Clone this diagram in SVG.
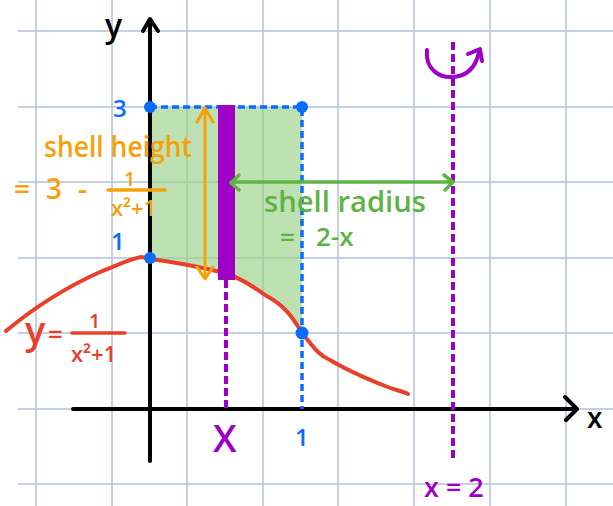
<svg xmlns="http://www.w3.org/2000/svg" width="613" height="506" viewBox="0 0 613 506">
<style>
.grid{stroke:#b3c2da;stroke-width:1.5;fill:none}
.hand{font-family:"Open Sans","Liberation Sans",sans-serif;font-weight:600}
.or{fill:#f7a10a}
.gr{fill:#5db444}
.rd{fill:#e8402a}
.pu{fill:#9e00c5}
.bl{fill:#0a6cff}
.ax{stroke:#000;stroke-width:4;fill:none;stroke-linecap:round;stroke-linejoin:round}
</style>
<rect width="613" height="506" fill="#fff"/>
<g id="grid" class="grid">
<path d="M36 0V506M112 0V506M187 0V506M263 0V506M338 0V506M414 0V506M490 0V506M566 0V506"/>
<path d="M18 31H613M18 107H613M18 182H613M18 258H613M18 333H613M18 409H613M18 484H613"/>
</g>
<g id="region">
<path d="M150 107H302V330C292 316 284 305 265 295C250 284 240 278 225 273C200 267 175 262 150 259Z" fill="#9ed38c" fill-opacity="0.68"/>
</g>
<g id="axes">
<path class="ax" d="M150 461V20M143 31L150 19L158 31"/>
<path class="ax" d="M73 409H576M565 397L577 409L566 420"/>
<text class="hand" x="105" y="37" font-size="32" fill="#000">y</text>
<text class="hand" x="587" y="428" font-size="28" fill="#000">x</text>
</g>
<g id="curve">
<path d="M6 331C30 311 60 290 100 272C120 264 132 258 142 257L150 259C175 262 200 267 225 273C240 278 250 284 265 295C284 305 292 316 302 333C312 345 318 355 330 360C350 372 370 380 385 386C395 390 402 391 408 394" fill="none" stroke="#e8402a" stroke-width="4" stroke-linecap="round"/>
</g>
<g id="bounds">
<path d="M150 107H302V409" fill="none" stroke="#0a6cff" stroke-width="3.5" stroke-dasharray="7 4"/>
<circle cx="150" cy="107" r="6" class="bl"/>
<circle cx="302" cy="107" r="6" class="bl"/>
<circle cx="150" cy="258" r="6" class="bl"/>
<circle cx="302" cy="333" r="6.5" class="bl"/>
<text class="hand bl" x="113" y="117" font-size="24">3</text>
<text class="hand bl" x="111" y="250" font-size="24">1</text>
<text class="hand bl" x="295" y="446" font-size="24">1</text>
</g>
<g id="shell">
<rect x="218" y="105" width="17" height="175" fill="#9e00c5"/>
<path d="M226 280V409" stroke="#9e00c5" stroke-width="4" stroke-dasharray="8 4"/>
<text class="hand pu" x="213" y="452" font-size="38" font-weight="400">X</text>
</g>
<g id="axis-of-rotation">
<path d="M453 42V460" stroke="#9e00c5" stroke-width="4" stroke-dasharray="8 4"/>
<path d="M427 50C425 70 440 78 453 77C468 76 476 66 479 52M468 54L480 49L482 61" fill="none" stroke="#9e00c5" stroke-width="4" stroke-linecap="round" stroke-linejoin="round"/>
<text class="hand pu" x="424" y="497" font-size="27">x = 2</text>
</g>
<g id="connectors">
<path d="M205 109V278M197 122L205 108L213 122M197 267L205 279L213 267" fill="none" stroke="#f7a10a" stroke-width="3" stroke-linecap="round" stroke-linejoin="round"/>
<path d="M231 182H452M239 175L231 183L239 190M444 175L453 182L445 190" fill="none" stroke="#5db444" stroke-width="3.5" stroke-linecap="round" stroke-linejoin="round"/>
</g>
<g id="height-label">
<text class="hand or" x="44" y="157" font-size="28" textLength="148" lengthAdjust="spacingAndGlyphs">shell height</text>
<text class="hand or" x="14" y="199" font-size="28">=</text>
<text class="hand or" x="46" y="199" font-size="28">3</text>
<text class="hand or" x="78" y="199" font-size="28">-</text>
<text class="hand or" x="124" y="186" font-size="20">1</text>
<path d="M108 190H165" stroke="#f7a10a" stroke-width="3.5" stroke-linecap="round"/>
<text class="hand or" x="111" y="216" font-size="22">x²+1</text>
</g>
<g id="radius-label">
<text class="hand gr" x="264" y="212" font-size="28" textLength="162" lengthAdjust="spacingAndGlyphs">shell radius</text>
<text class="hand gr" x="280" y="246" font-size="26">=</text>
<text class="hand gr" x="316" y="246" font-size="26">2-x</text>
</g>
<g id="curve-label">
<text class="hand rd" x="25" y="344" font-size="38">y</text>
<text class="hand rd" x="48" y="343" font-size="26">=</text>
<text class="hand rd" x="89" y="328" font-size="20">1</text>
<path d="M72 333H125" stroke="#e8402a" stroke-width="3.5" stroke-linecap="round"/>
<text class="hand rd" x="71" y="362" font-size="22">x²+1</text>
</g>
</svg>
